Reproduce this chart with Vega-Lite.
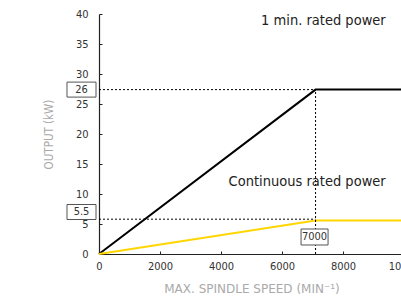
{
  "$schema": "https://vega.github.io/schema/vega-lite/v6.json",
  "width": 305,
  "height": 240,
  "autosize": "none",
  "padding": {"left": 99, "top": 14, "right": 0, "bottom": 43},
  "background": "white",
  "config": {
    "view": {"stroke": null},
    "font": "DejaVu Sans Condensed",
    "axis": {"grid": false, "domainColor": "#222", "tickColor": "#222", "labelColor": "#333", "labelFontSize": 11, "titleColor": "#aaa", "titleFontWeight": "normal", "titleFontSize": 12, "tickSize": -3, "domainWidth": 1.2, "labelOverlap": false, "labelFlush": false, "format": "d"}
  },
  "encoding": {
    "x": {"field": "speed", "type": "quantitative", "scale": {"domain": [0, 10000]}, "axis": {"values": [0, 2000, 4000, 6000, 8000, 10000], "labelOverlap": false, "title": "MAX. SPINDLE SPEED (MIN⁻¹)", "titleFont": "DejaVu Sans", "titleFontSize": 12, "labelPadding": 9, "titlePadding": 12}},
    "y": {"field": "kw", "type": "quantitative", "scale": {"domain": [0, 40]}, "axis": {"values": [0, 5, 10, 15, 20, 25, 30, 35, 40], "labelOverlap": false, "labelBound": false, "title": "OUTPUT (kW)", "titleFontSize": 11.5, "labelPadding": 14, "titlePadding": 21}}
  },
  "layer": [
    {
      "data": {"values": [
        {"series": "1 min", "speed": 0, "kw": 0},
        {"series": "1 min", "speed": 7100, "kw": 27.4},
        {"series": "1 min", "speed": 10000, "kw": 27.4},
        {"series": "cont", "speed": 0, "kw": 0},
        {"series": "cont", "speed": 7100, "kw": 5.6},
        {"series": "cont", "speed": 10000, "kw": 5.6}
      ]},
      "mark": {"type": "line", "strokeWidth": 2, "clip": false},
      "encoding": {
        "color": {"field": "series", "type": "nominal", "scale": {"domain": ["1 min", "cont"], "range": ["#000000", "#FFD600"]}, "legend": null}
      }
    },
    {
      "data": {"values": [
        {"speed": 0, "speed2": 7100, "kw": 27.4, "kw2": 27.4},
        {"speed": 0, "speed2": 7100, "kw": 5.8, "kw2": 5.8},
        {"speed": 7100, "speed2": 7100, "kw": 0, "kw2": 27.4}
      ]},
      "mark": {"type": "rule", "strokeDash": [2, 2], "strokeWidth": 1, "color": "#000"},
      "encoding": {
        "x2": {"field": "speed2"},
        "y2": {"field": "kw2"}
      }
    },
    {
      "data": {"values": [
        {"label": "26", "speed": 0, "kw": 27.4},
        {"label": "5.5", "speed": 0, "kw": 7.0}
      ]},
      "layer": [
        {
          "mark": {"type": "point", "shape": "M-0.967,-0.5H0.967V0.5H-0.967Z", "size": 900, "filled": false, "fill": "white", "fillOpacity": 1, "stroke": "#555", "strokeWidth": 1, "opacity": 1, "xOffset": -17.5, "clip": false}
        },
        {
          "mark": {"type": "text", "fontSize": 11, "color": "#333", "xOffset": -17.5, "baseline": "middle", "align": "center"},
          "encoding": {"text": {"field": "label"}}
        }
      ]
    },
    {
      "data": {"values": [
        {"label": "7000", "speed": 7100, "kw": 0}
      ]},
      "layer": [
        {
          "mark": {"type": "point", "shape": "M-0.9,-0.533H0.9V0.533H-0.9Z", "size": 900, "filled": false, "fill": "white", "fillOpacity": 1, "stroke": "#555", "strokeWidth": 1, "opacity": 1, "xOffset": -1, "yOffset": -17}
        },
        {
          "mark": {"type": "text", "fontSize": 11, "color": "#333", "xOffset": -1, "yOffset": -17, "baseline": "middle", "align": "center"},
          "encoding": {"text": {"field": "label"}}
        }
      ]
    },
    {
      "data": {"values": [
        {"label": "1 min. rated power", "speed": 9400, "kw": 38.8},
        {"label": "Continuous rated power", "speed": 9400, "kw": 12}
      ]},
      "mark": {"type": "text", "fontSize": 14.5, "color": "#222", "align": "right", "baseline": "middle"},
      "encoding": {"text": {"field": "label"}}
    }
  ]
}
